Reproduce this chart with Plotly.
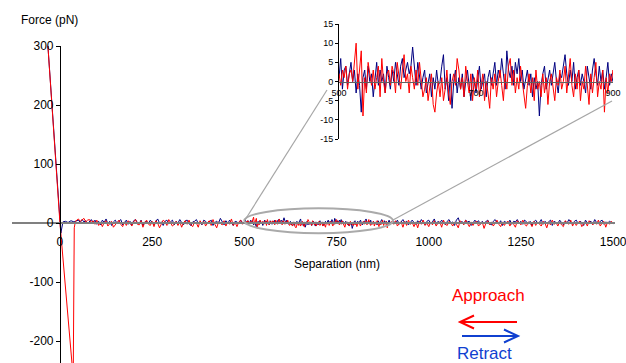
import plotly.graph_objects as go

W, H = 626, 363

# ---------------- data ----------------
# contact / adhesion part
approach_head_sep = [-32.6, -21.7, -10.9, 0, 36, 38.8, 42]
approach_head_force = [300, 200, 100, 0, -262, -8, 3]
retract_head_sep = [-32.6, -21.7, -10.9, 0, 2.5, 8, 15, 22, 30, 38]
retract_head_force = [300, 200, 100, 0, -17, 2, 3, 1, 4, 2]

# sampling grid of the baseline (nm)
sep_a = [45 + 5 * i for i in range(91)]        # 45 .. 495
sep_b = [500 + 2.5 * i for i in range(161)]    # 500 .. 900 (zoomed region)
sep_c = [905 + 5 * i for i in range(120)]      # 905 .. 1500

approach_a = [4, 7, 3, 6, 8, 2, 5, 6, 1, 4,
              -2, 5, -4, 2, -6, 1, 4, -5, -1, 3,
              -7, -3, 1, 5, -2, -6, 2, -4, 4, 0,
              -5, 2, 6, -2, -3, 4, -7, 1, 5, -2,
              -4, 3, -6, 4, 0, -8, -1, 5, 2, -4,
              6, 0, -5, -2, 3, -4, 2, -7, 1, 4,
              -2, 5, -3, -6, 2, 0, -7, 4, -2, 3,
              -5, 1, 4, -4, 6, -2, -8, 2, 0, -3,
              4, -5, 2, -2, 7, -4, 1, -6, 2, 5, -2]
retract_a = [3, 5, 1, 6, 2, 4, -1, 3, 6, 0,
             5, -2, 3, -3, 5, 1, 7, -1, 3, -4,
             2, 5, -1, 3, 6, -3, 1, 5, -2, 3,
             -3, 4, 6, 1, -1, 5, -4, 2, 3, -1,
             5, 1, -3, 3, 7, 0, 2, -4, 3, 5,
             -1, 2, 5, -3, 3, 0, 6, 1, -3, 4,
             5, -1, -4, 2, 3, 6, -1, 2, -3, 5,
             3, -1, 2, 5, -4, 1, 3, 0, 8, 1,
             -3, 4, -1, 5, 1, -4, 3, 2, -1, 5, 1]

approach_b = [2, -1, 3, 1, 4, -2, 2, 3, 0, 5,
              10, -2, 4, 8, -9, 1, -3, 5, 2, -1,
              3, -2, 1, 4, -4, 6, 0, -3, 2, 3,
              -1, 4, 2, -3, 5, 1, -2, 3, 7, 0,
              2, -3, 4, 1, -2, 3, -1, 5, 0, -4,
              -2, 1, -5, -1, 2, -6, -8, -3, 0, -4,
              1, -5, -2, 3, -3, -6, 0, 2, -1, 6,
              3, -2, 1, -4, 4, 0, -3, 2, -5, 1,
              -2, 3, -4, -1, 2, -5, 0, -3, -7, 1,
              -2, 2, -4, 0, 3, -1, -5, 2, -2, 4,
              6, -1, 3, -3, 1, -2, 4, 0, -4, -7,
              -1, 2, -3, 1, -5, 3, -2, 0, -4, 2,
              -3, 1, -6, 0, 2, -2, -5, 1, -1, 3,
              -2, 0, 4, -3, 1, 6, -1, -4, 2, -2,
              3, -5, 0, -2, 4, -1, -6, 2, -3, 1,
              5, -4, 0, -2, 3, -8, 1, -3, 2, 0, 3]
retract_b = [1, 6, -2, 3, 4, -1, 2, 5, 0, 3,
             -3, 2, -1, -8, 1, 3, -2, 4, 0, 2,
             -4, 1, 5, -1, 3, 0, 2, -3, 4, 1,
             -2, 3, 0, 5, 2, -1, 4, 6, 1, 3,
             5, 2, 4, 9, 3, -1, 5, 2, -2, 1,
             3, -3, 0, 2, -4, 1, -2, 3, -1, 0,
             4, 7, -2, 1, -5, 2, -7, 0, 3, -3,
             1, -2, 2, -4, 0, 3, -1, -5, 2, 0,
             -3, 1, 4, -2, 0, 2, -4, 1, 3, -1,
             2, 5, -1, 3, 1, 6, 2, -2, 8, 3,
             1, 4, -1, 5, 2, 6, 0, 3, -2, 1,
             3, -1, 2, -4, 1, -2, 0, -9, -1, 2,
             4, -2, 1, 3, -1, 2, 5, 0, -3, 2,
             1, 4, 7, 2, -1, 3, 0, 5, -2, 1,
             3, -1, 2, 0, -3, 4, 1, -2, 3, 6,
             2, -1, 4, 0, 3, -2, 1, 5, -1, 2, 0]

approach_c = [-2, 4, -5, 0, 2, -7, 3, -4, 5, -2,
              1, -6, 2, -8, 3, -2, 5, -4, 0, -6,
              2, -3, 4, -5, 0, 2, -7, 5, -2, -4,
              3, 0, -5, 2, -2, -8, 4, 0, -3, 5,
              -2, -6, 2, -4, 1, 3, -5, -2, 2, -9,
              0, 4, -3, 2, -5, 0, 5, -2, -6, 2,
              -4, 1, 3, -5, 2, -2, -7, 4, 0, -3,
              5, -2, -5, 2, 0, -6, 3, -4, 2, -2,
              -5, 3, 0, -8, 2, -3, 5, -2, 1, -5,
              2, -3, -6, 4, 0, -2, 5, -5, 2, -4,
              1, 3, -6, -2, 2, -5, 4, 0, -3, 2,
              -2, 5, -5, 0, 3, -7, 2, -2, 3, 0]
retract_c = [3, -1, 5, -2, 2, 6, 0, 3, -3, 2,
             5, 1, -2, 4, 0, 6, 2, -3, 3, 5,
             -1, 2, 7, -2, 3, 0, 5, 1, -3, 3,
             6, 0, 2, -4, 5, 9, -1, 3, -2, 5,
             2, 3, -4, 0, 5, 1, 4, -2, 3, 0,
             2, 5, -1, -3, 3, 6, 1, -1, 4, -4,
             3, 1, -1, 5, -2, 3, 2, 6, 0, 3,
             -2, 5, 1, -1, 3, -4, 2, 5, 0, 1,
             6, -2, 3, 0, 2, 5, -4, 3, 1, -1,
             5, 1, -3, 3, 0, 6, 2, -2, 3, 5,
             -1, 3, 1, -4, 5, 0, 2, 3, -2, 6,
             1, -1, 3, 5, -2, 2, 0, 3, 1, -1]

x_ticks = [0, 250, 500, 750, 1000, 1250, 1500]
y_ticks = [-200, -100, 0, 100, 200, 300]
inset_x_ticks = [500, 700, 900]
inset_y_ticks = [-15, -10, -5, 0, 5, 10, 15]

approach_sep = approach_head_sep + sep_a + sep_b + sep_c
approach_force = approach_head_force + approach_a + approach_b + approach_c
retract_sep = retract_head_sep + sep_a + sep_b + sep_c
retract_force = retract_head_force + retract_a + retract_b + retract_c

RED = "#ff0000"
NAVY = "#000080"
BLUE_TXT = "#1040d0"
FONT = "Liberation Sans, Arial, sans-serif"


def fx(px):
    return px / W


def fy(py):
    return 1 - py / H


# main axes geometry
XR = [-130, 1505]
YR = [-237, 300]
XD = [fx(12), fx(615)]
YD = [0, fy(46)]
y_axis_pos = XD[0] + (0 - XR[0]) / (XR[1] - XR[0]) * (XD[1] - XD[0])
x_axis_pos = YD[0] + (0 - YR[0]) / (YR[1] - YR[0]) * (YD[1] - YD[0])

# inset geometry
X2R = [500, 900]
Y2R = [-15, 15]
X2D = [fx(339), fx(613)]
Y2D = [fy(139), fy(24)]
x2_axis_pos = Y2D[0] + (0 - Y2R[0]) / (Y2R[1] - Y2R[0]) * (Y2D[1] - Y2D[0])

fig = go.Figure()
for xa, ya in (("x", "y"), ("x2", "y2")):
    fig.add_trace(go.Scatter(x=retract_sep, y=retract_force, mode="lines",
                             line=dict(color=NAVY, width=1), xaxis=xa, yaxis=ya,
                             showlegend=False, hoverinfo="skip"))
    fig.add_trace(go.Scatter(x=approach_sep, y=approach_force, mode="lines",
                             line=dict(color=RED, width=1), xaxis=xa, yaxis=ya,
                             showlegend=False, hoverinfo="skip"))

fig.update_layout(
    width=W, height=H,
    margin=dict(l=0, r=0, t=0, b=0),
    paper_bgcolor="white", plot_bgcolor="rgba(0,0,0,0)",
    font=dict(family=FONT, size=12, color="black"),
    xaxis=dict(domain=XD, range=XR, anchor="free", position=x_axis_pos,
               showline=True, linecolor="#808080", linewidth=1.5,
               showgrid=False, zeroline=False, ticks="",
               tickvals=x_ticks, ticktext=[str(v) for v in x_ticks],
               ticklabelstandoff=8, ticklabeloverflow="allow", automargin=False,
               tickfont=dict(size=12, color="black")),
    yaxis=dict(domain=YD, range=YR, anchor="free", position=y_axis_pos,
               showline=True, linecolor="black", linewidth=1,
               showgrid=False, zeroline=False, ticks="outside", ticklen=4,
               tickcolor="black", tickvals=y_ticks,
               ticktext=[str(v) for v in y_ticks], automargin=False,
               tickfont=dict(size=12, color="black")),
    xaxis2=dict(domain=X2D, range=X2R, anchor="free", position=x2_axis_pos,
                showline=True, linecolor="#606060", linewidth=1,
                showgrid=False, zeroline=False, ticks="",
                tickvals=inset_x_ticks, ticktext=[str(v) for v in inset_x_ticks],
                ticklabelstandoff=3, ticklabeloverflow="allow", automargin=False,
                tickfont=dict(size=9, color="black")),
    yaxis2=dict(domain=Y2D, range=Y2R, anchor="x2",
                showline=True, linecolor="black", linewidth=1,
                showgrid=False, zeroline=False, ticks="outside", ticklen=3,
                tickcolor="black", tickvals=inset_y_ticks,
                ticktext=[str(v) for v in inset_y_ticks], automargin=False,
                tickfont=dict(size=9, color="black")),
)

# zoom ellipse and connector lines
fig.add_shape(type="circle", xref="x", yref="y", x0=500, x1=903, y0=-17, y1=25,
              line=dict(color="#aaaaaa", width=2), layer="above")
fig.add_shape(type="line", xref="paper", yref="paper",
              x0=fx(245), y0=fy(220), x1=fx(327), y1=fy(90),
              line=dict(color="#a6a6a6", width=1.2))
fig.add_shape(type="line", xref="paper", yref="paper",
              x0=fx(393), y0=fy(220), x1=fx(612), y1=fy(101),
              line=dict(color="#a6a6a6", width=1.2))

# axis titles
fig.add_annotation(text="Force (pN)", xref="paper", yref="paper",
                   x=fx(19), y=fy(20), xanchor="left", yanchor="middle",
                   showarrow=False, font=dict(size=12, color="black"))
fig.add_annotation(text="Separation (nm)", xref="x", yref="paper",
                   x=750, y=fy(264), xanchor="center", yanchor="middle",
                   showarrow=False, font=dict(size=12, color="black"))

# legend-like labels and arrows
fig.add_annotation(text="Approach", xref="paper", yref="paper",
                   x=fx(488), y=fy(295), xanchor="center", yanchor="middle",
                   showarrow=False, font=dict(size=17, color=RED))
fig.add_annotation(text="Retract", xref="paper", yref="paper",
                   x=fx(484), y=fy(353), xanchor="center", yanchor="middle",
                   showarrow=False, font=dict(size=17, color=BLUE_TXT))


def path(points_list):
    s = ""
    for pts in points_list:
        s += "M {} {} ".format(fx(pts[0][0]), fy(pts[0][1]))
        for p in pts[1:]:
            s += "L {} {} ".format(fx(p[0]), fy(p[1]))
    return s.strip()


fig.add_shape(type="path", xref="paper", yref="paper",
              path=path([[(517, 322), (460, 322)],
                         [(474, 315.5), (460, 322), (474, 328.5)]]),
              line=dict(color=RED, width=2))
fig.add_shape(type="path", xref="paper", yref="paper",
              path=path([[(462, 336), (518, 336)],
                         [(504, 329.5), (518, 336), (504, 342.5)]]),
              line=dict(color=BLUE_TXT, width=2))

fig.write_html("out.html",
               config={"displayModeBar": False},
               post_script="document.body.style.margin='0';"
                           "document.body.style.overflow='hidden';")
